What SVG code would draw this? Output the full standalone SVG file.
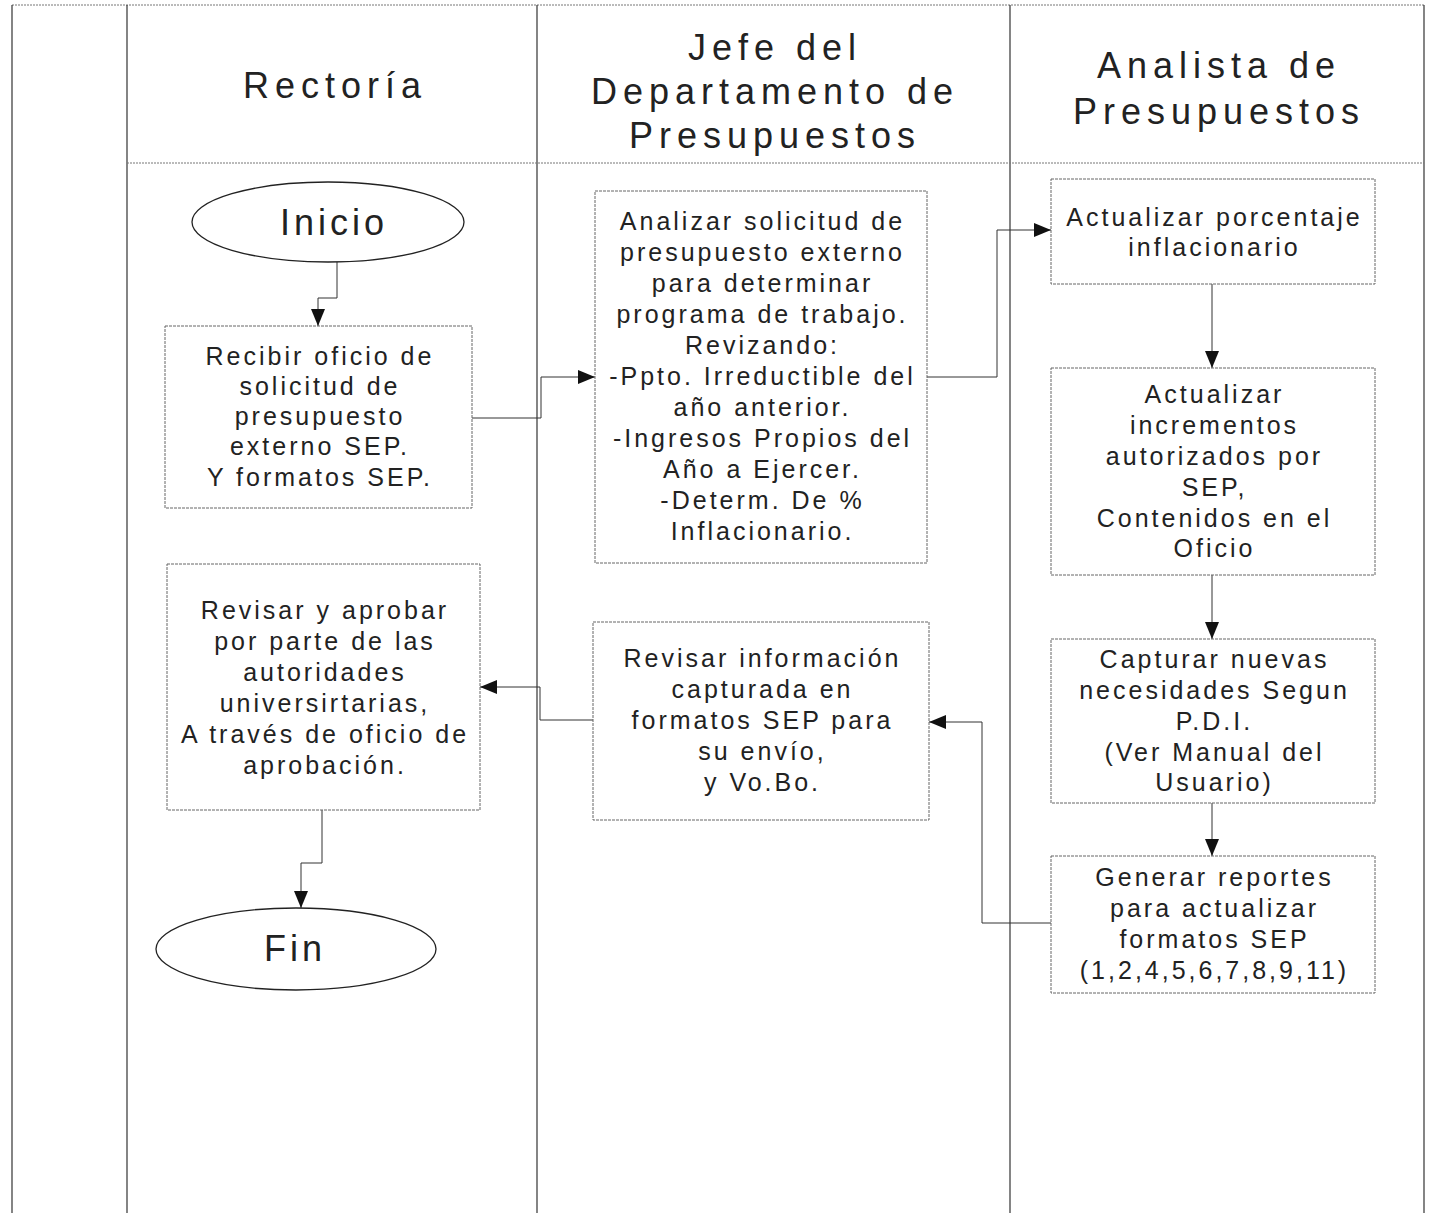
<svg xmlns="http://www.w3.org/2000/svg" width="1430" height="1213" viewBox="0 0 1430 1213">
<style>
.frame{stroke:#333;stroke-width:1.2;fill:none}
.dot{stroke:#777;stroke-width:1;stroke-dasharray:2 1;fill:none}
.box{fill:#fff;stroke:#666;stroke-width:1;stroke-dasharray:3 1}
.term{fill:#fff;stroke:#222;stroke-width:1.3}
.hdr{font-family:"Liberation Sans",Arial,sans-serif;font-size:36px;letter-spacing:6px;fill:#222;text-anchor:middle}
.txt{font-family:"Liberation Sans",Arial,sans-serif;font-size:25px;letter-spacing:3px;fill:#222;text-anchor:middle}
.ttxt{font-family:"Liberation Sans",Arial,sans-serif;font-size:36px;letter-spacing:4px;fill:#222;text-anchor:middle}
.conn{stroke:#333;stroke-width:1;fill:none;marker-end:url(#arr)}
</style>
<defs>
<marker id="arr" markerUnits="userSpaceOnUse" markerWidth="18" markerHeight="16" refX="17" refY="7" orient="auto">
<path d="M0,0 L17,7 L0,14 z" fill="#111"/>
</marker>
</defs>
<rect width="1430" height="1213" fill="#fff"/>
<g id="frame">
<line class="dot" x1="12" y1="5" x2="1425" y2="5"/>
<line class="frame" x1="12" y1="5" x2="12" y2="1213"/>
<line class="frame" x1="127" y1="5" x2="127" y2="1213"/>
<line class="frame" x1="537" y1="5" x2="537" y2="1213"/>
<line class="frame" x1="1010" y1="5" x2="1010" y2="1213"/>
<line class="frame" x1="1424" y1="5" x2="1424" y2="1213"/>
<line class="dot" x1="127" y1="163" x2="1424" y2="163"/>
</g>
<g id="headers">
<text class="hdr" x="335" y="98">Rectoría</text>
<text class="hdr" x="775" y="60">Jefe del</text>
<text class="hdr" x="775" y="104">Departamento de</text>
<text class="hdr" x="775" y="148">Presupuestos</text>
<text class="hdr" x="1219" y="78">Analista de</text>
<text class="hdr" x="1219" y="124">Presupuestos</text>
</g>
<g id="connectors">
<path class="conn" d="M337,262 V298 H318 V326"/>
<path class="conn" d="M472,418 H541 V377 H595"/>
<path class="conn" d="M927,377 H997 V230 H1051"/>
<path class="conn" d="M1212,284 V368"/>
<path class="conn" d="M1212,575 V639"/>
<path class="conn" d="M1212,803 V856"/>
<path class="conn" d="M1051,923 H982 V722 H929"/>
<path class="conn" d="M593,720 H540 V687 H480"/>
<path class="conn" d="M322,810 V863 H301 V908"/>
</g>
<g id="inicio">
<ellipse class="term" cx="328" cy="222" rx="136" ry="40"/>
<text class="ttxt" x="334" y="235">Inicio</text>
</g>
<g id="recibir">
<rect class="box" x="165" y="326" width="307" height="182"/>
<text class="txt" x="320" y="365">Recibir oficio de</text>
<text class="txt" x="320" y="395">solicitud de</text>
<text class="txt" x="320" y="425">presupuesto</text>
<text class="txt" x="320" y="455">externo SEP.</text>
<text class="txt" x="320" y="486">Y formatos SEP.</text>
</g>
<g id="analizar">
<rect class="box" x="595" y="191" width="332" height="372"/>
<text class="txt" x="762.5" y="230">Analizar solicitud de</text>
<text class="txt" x="762.5" y="261">presupuesto externo</text>
<text class="txt" x="762.5" y="292">para determinar</text>
<text class="txt" x="762.5" y="323">programa de trabajo.</text>
<text class="txt" x="762.5" y="354">Revizando:</text>
<text class="txt" x="762.5" y="385">-Ppto. Irreductible del</text>
<text class="txt" x="762.5" y="416">año anterior.</text>
<text class="txt" x="762.5" y="447">-Ingresos Propios del</text>
<text class="txt" x="762.5" y="478">Año a Ejercer.</text>
<text class="txt" x="762.5" y="509">-Determ. De %</text>
<text class="txt" x="762.5" y="540">Inflacionario.</text>
</g>
<g id="porcentaje">
<rect class="box" x="1051" y="179" width="324" height="105"/>
<text class="txt" x="1214.5" y="226">Actualizar porcentaje</text>
<text class="txt" x="1214.5" y="256">inflacionario</text>
</g>
<g id="incrementos">
<rect class="box" x="1051" y="368" width="324" height="207"/>
<text class="txt" x="1214.5" y="403">Actualizar</text>
<text class="txt" x="1214.5" y="434">incrementos</text>
<text class="txt" x="1214.5" y="465">autorizados por</text>
<text class="txt" x="1214.5" y="496">SEP,</text>
<text class="txt" x="1214.5" y="527">Contenidos en el</text>
<text class="txt" x="1214.5" y="557">Oficio</text>
</g>
<g id="capturar">
<rect class="box" x="1051" y="639" width="324" height="164"/>
<text class="txt" x="1214.5" y="668">Capturar nuevas</text>
<text class="txt" x="1214.5" y="699">necesidades Segun</text>
<text class="txt" x="1214.5" y="730">P.D.I.</text>
<text class="txt" x="1214.5" y="761">(Ver Manual del</text>
<text class="txt" x="1214.5" y="791">Usuario)</text>
</g>
<g id="generar">
<rect class="box" x="1051" y="856" width="324" height="137"/>
<text class="txt" x="1214.5" y="886">Generar reportes</text>
<text class="txt" x="1214.5" y="917">para actualizar</text>
<text class="txt" x="1214.5" y="948">formatos SEP</text>
<text class="txt" x="1214.5" y="979">(1,2,4,5,6,7,8,9,11)</text>
</g>
<g id="revisar-info">
<rect class="box" x="593" y="622" width="336" height="198"/>
<text class="txt" x="762.5" y="667">Revisar información</text>
<text class="txt" x="762.5" y="698">capturada en</text>
<text class="txt" x="762.5" y="729">formatos SEP para</text>
<text class="txt" x="762.5" y="760">su envío,</text>
<text class="txt" x="762.5" y="791">y Vo.Bo.</text>
</g>
<g id="revisar-aprobar">
<rect class="box" x="167" y="564" width="313" height="246"/>
<text class="txt" x="325" y="619">Revisar y aprobar</text>
<text class="txt" x="325" y="650">por parte de las</text>
<text class="txt" x="325" y="681">autoridades</text>
<text class="txt" x="325" y="712">universirtarias,</text>
<text class="txt" x="325" y="743">A través de oficio de</text>
<text class="txt" x="325" y="774">aprobación.</text>
</g>
<g id="fin">
<ellipse class="term" cx="296" cy="949" rx="140" ry="41"/>
<text class="ttxt" x="295" y="961">Fin</text>
</g>
</svg>
